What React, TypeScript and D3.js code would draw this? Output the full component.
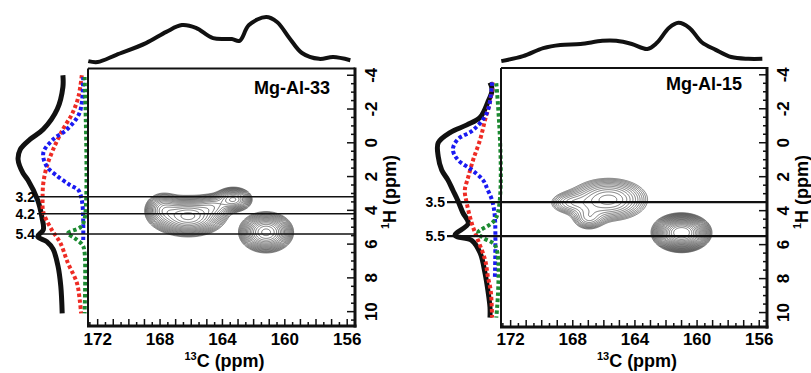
import React, { useMemo } from 'react'
import * as d3 from 'd3'

const W = 811
const H = 373
const FONT = '"Liberation Sans", Arial, Helvetica, sans-serif'

// top (13C) projections: ppm / intensity
const topC33 = [172.6, 172.0, 170.8, 168.9, 167.6, 166.6, 165.7, 164.6, 163.4, 162.9, 162.3, 161.2, 160.5, 159.7, 158.9, 157.8, 156.9, 155.8]
const topI33 = [2, 0, 16, 42, 67, 82, 76, 53, 51, 47, 82, 100, 89, 53, 20, 7, 11, 4]
const topC15 = [172.6, 171.2, 169.9, 168.8, 167.5, 166.1, 165.2, 164.2, 163.2, 162.6, 161.8, 161.2, 160.5, 159.7, 158.8, 157.8, 156.7, 155.8]
const topI15 = [2, 13, 31, 38, 40, 47, 47, 40, 29, 42, 76, 87, 76, 44, 27, 11, 7, 7]

// left (1H) projections: ppm / intensity, sum (black) and fitted components
const sumH33 = [-4.0, -3.3, -2.0, -0.8, -0.2, 0.4, 1.0, 1.8, 2.2, 3.4, 4.4, 5.15, 5.55, 5.85, 6.3, 7.3, 8.5, 10.1]
const sumI33 = [33, 33, 41, 61, 80, 94, 97, 90, 83, 69, 63, 61, 69, 56, 47, 40, 36, 34]
const redH33 = [-4.0, -2.7, -1.7, -0.8, 0.4, 1.4, 2.4, 3.3, 4.1, 5.15, 5.9, 7.1, 8.3, 9.3, 10.1]
const redI33 = [6, 11, 20, 33, 47, 56, 61, 62, 61, 49, 37, 26, 13, 9, 7]
const blueH33 = [-3.9, -1.8, -0.8, -0.2, 0.6, 1.4, 2.0, 2.5, 2.8, 3.4, 4.6, 5.9]
const blueI33 = [4, 9, 27, 47, 61, 56, 40, 23, 11, 6, 4, 4]
const greenH33 = [-3.9, 4.5, 5.0, 5.35, 5.65, 6.05, 6.5, 10.1]
const greenI33 = [2, 2, 8, 26, 16, 5, 2, 2]

const sumH15 = [-3.55, -3.1, -2.4, -1.5, -1.05, -0.6, 0.0, 0.8, 1.6, 2.2, 2.8, 3.4, 4.1, 4.75, 5.45, 5.75, 6.5, 7.7, 8.7, 9.7, 10.3]
const sumI15 = [10, 7, 13, 24, 43, 67, 84, 84, 79, 70, 63, 56, 49, 41, 60, 36, 24, 17, 13, 10, 10]
const redH15 = [-3.55, -2.4, -1.35, -0.2, 1.0, 2.0, 2.8, 3.4, 4.75, 5.75, 6.9, 7.9, 8.7, 10.3]
const redI15 = [6, 10, 17, 24, 34, 41, 46, 44, 36, 27, 17, 13, 9, 7]
const blueH15 = [-3.55, -1.8, -0.75, -0.2, 0.4, 1.0, 1.6, 2.2, 2.8, 3.4, 4.4, 7.9]
const blueI15 = [7, 14, 34, 56, 63, 56, 36, 20, 13, 7, 3, 3]
const greenH15 = [-3.5, 4.4, 5.3, 5.6, 6.1, 10.3]
const greenI15 = [1, 1, 27, 20, 2, 1]

// 1H slices marked on the spectra
const refs33 = [3.2, 4.2, 5.4]
const refs15 = [3.5, 5.5]

// cross peaks: [13C ppm, 1H ppm, width 13C, width 1H, height]
const peaks33 = [
  [166.2, 4.35, 1.0, 0.5, 1.0],
  [163.3, 3.35, 0.55, 0.33, 0.55],
  [164.6, 3.75, 0.6, 0.35, 0.3],
  [167.8, 3.9, 0.55, 0.45, 0.35],
  [161.2, 5.3, 0.72, 0.5, 1.0],
]
const peaks15 = [
  [165.7, 3.35, 1.4, 0.7, 0.25],
  [168.3, 3.55, 0.8, 0.4, 0.1],
  [167.0, 4.5, 0.6, 0.4, 0.12],
  [161.0, 5.3, 0.8, 0.48, 1.0],
]

const xTickLabels = [172, 168, 164, 160, 156]
const yTickLabels = [-4, -2, 0, 2, 4, 6, 8, 10]

const RED = '#ee2b24'
const BLUE = '#1a1af2'
const GREEN = '#1c8a31'

const Panel = ({ f, name, nameY, topC, topI, comps, refs, refW, labelEnd, peaks, ratio, nLevels, cStroke }) => {
  const x = d3.scaleLinear().domain([172.62, 155.5]).range([f.x0, f.x1])
  const y = d3.scaleLinear().domain([-4.4, 10.85]).range([f.y0, f.y1])
  const ti = d3.scaleLinear().domain([0, 100]).range([62, 17])
  const li = d3.scaleLinear().domain([0, 100]).range([f.base, f.base - 70])

  const topPath = d3.line<number>()
    .x((c) => x(c))
    .y((c, i) => ti(topI[i]))
    .curve(d3.curveCatmullRom.alpha(0.5))(topC)

  const sidePath = (hs: number[], is: number[]) =>
    d3.line<number>()
      .x((h, i) => li(is[i]))
      .y((h) => y(h))
      .curve(d3.curveCatmullRom.alpha(0.5))(hs)

  const contours = useMemo(() => {
    const n = Math.ceil(f.x1 - f.x0)
    const m = Math.ceil(f.y1 - f.y0)
    const values = new Float64Array(n * m)
    for (let j = 0; j < m; j++) {
      const h = y.invert(f.y0 + j + 0.5)
      for (let i = 0; i < n; i++) {
        const c = x.invert(f.x0 + i + 0.5)
        let v = 0
        for (const [pc, ph, sc, sh, a] of peaks) {
          v += a * Math.exp(-((c - pc) ** 2) / (2 * sc * sc) - ((h - ph) ** 2) / (2 * sh * sh))
        }
        values[j * n + i] = v
      }
    }
    const thresholds = d3.range(nLevels).map((k) => 0.05 * Math.pow(ratio, k))
    const gen = d3.contours().size([n, m]).thresholds(thresholds)
    const path = d3.geoPath()
    return gen(Array.from(values)).map((c) => path(c))
  }, [])

  const xTicks = d3.range(155.5, 172.6, 0.5)
  const yTicks = d3.range(-4, 10.6, 0.5)

  return (
    <g>
      {/* top projection */}
      <path d={topPath} fill="none" stroke="#111" strokeWidth={4} strokeLinejoin="round" />

      {/* left projection and components */}
      <path d={sidePath(comps.sumH, comps.sumI)} fill="none" stroke="#111" strokeWidth={5} strokeLinejoin="round" />
      <path d={sidePath(comps.redH, comps.redI)} fill="none" stroke={RED} strokeWidth={4} strokeDasharray="3.5 2.5" />
      <path d={sidePath(comps.blueH, comps.blueI)} fill="none" stroke={BLUE} strokeWidth={4} strokeDasharray="3.5 2.5" />
      <path d={sidePath(comps.greenH, comps.greenI)} fill="none" stroke={GREEN} strokeWidth={4} strokeDasharray="3.5 2.5" />

      {/* contours */}
      <g transform={`translate(${f.x0},${f.y0})`}>
        {contours.map((d, i) => (
          <path key={i} d={d} fill="none" stroke={cStroke} strokeWidth={0.65} />
        ))}
      </g>

      {/* slice lines */}
      {refs.map((r) => (
        <g key={r}>
          <line x1={labelEnd + 2} x2={f.x1} y1={y(r)} y2={y(r)} stroke="#111" strokeWidth={refW} />
          <text x={labelEnd} y={y(r) + 5} textAnchor="end" fontSize={14} fontWeight="bold" fontFamily={FONT}>
            {r.toFixed(1)}
          </text>
        </g>
      ))}

      {/* frame */}
      <line x1={f.x0} x2={f.x1} y1={f.y0} y2={f.y0} stroke="#111" strokeWidth={2} />
      <line x1={f.x0} x2={f.x0} y1={f.y0} y2={f.y1} stroke="#111" strokeWidth={2} />
      <line x1={f.x0 - 1} x2={f.x1 + 1.5} y1={f.y1} y2={f.y1} stroke="#111" strokeWidth={3} />
      <line x1={f.x1} x2={f.x1} y1={f.y0 - 1} y2={f.y1 + 1.5} stroke="#111" strokeWidth={3} />

      {/* x axis ticks */}
      {xTicks.map((t) => (
        <line key={t} x1={x(t)} x2={x(t)} y1={f.y1} y2={f.y1 - (t % 1 === 0 ? 7 : 4)} stroke="#111" strokeWidth={1.5} />
      ))}
      {xTickLabels.map((t) => (
        <text key={t} x={x(t)} y={345} textAnchor="middle" fontSize={17} fontWeight="bold" fontFamily={FONT}>
          {t}
        </text>
      ))}
      <text x={(f.x0 + f.x1) / 2 + 3} y={367} textAnchor="middle" fontSize={18} fontWeight="bold" fontFamily={FONT}>
        <tspan fontSize={11} dy={-7}>13</tspan>
        <tspan dy={7}>C (ppm)</tspan>
      </text>

      {/* y axis ticks */}
      {yTicks.map((t) => (
        <line key={t} x1={f.x1} x2={f.x1 - (t % 2 === 0 ? 8 : 4)} y1={y(t)} y2={y(t)} stroke="#111" strokeWidth={1.5} />
      ))}
      {yTickLabels.map((t) => (
        <text key={t} transform={`translate(${f.x1 + 22},${y(t)}) rotate(-90)`} textAnchor="middle" fontSize={17} fontWeight="bold" fontFamily={FONT}>
          {t}
        </text>
      ))}
      <text transform={`translate(${f.x1 + 41},192) rotate(-90)`} textAnchor="middle" fontSize={18} fontWeight="bold" fontFamily={FONT}>
        <tspan fontSize={11} dy={-7}>1</tspan>
        <tspan dy={7}>H (ppm)</tspan>
      </text>

      <text x={f.x1 - 25} y={nameY} textAnchor="end" fontSize={18} fontWeight="bold" fontFamily={FONT}>
        {name}
      </text>
    </g>
  )
}

const App = () => {
  return (
    <div style={{ position: 'absolute', left: 0, top: 0, width: W, height: H, background: '#fff' }}>
      <svg width={W} height={H} style={{ display: 'block' }}>
        <Panel
          f={{ x0: 88, x1: 355, y0: 68.5, y1: 326, base: 86 }}
          name="Mg-Al-33"
          nameY={94}
          topC={topC33}
          topI={topI33}
          comps={{ sumH: sumH33, sumI: sumI33, redH: redH33, redI: redI33, blueH: blueH33, blueI: blueI33, greenH: greenH33, greenI: greenI33 }}
          refs={refs33}
          refW={1.5}
          labelEnd={35}
          peaks={peaks33}
          ratio={1.2}
          nLevels={17}
          cStroke="#333"
        />
        <Panel
          f={{ x0: 501, x1: 767, y0: 68, y1: 327, base: 497 }}
          name="Mg-Al-15"
          nameY={90}
          topC={topC15}
          topI={topI15}
          comps={{ sumH: sumH15, sumI: sumI15, redH: redH15, redI: redI15, blueH: blueH15, blueI: blueI15, greenH: greenH15, greenI: greenI15 }}
          refs={refs15}
          refW={2.3}
          labelEnd={445}
          peaks={peaks15}
          ratio={1.15}
          nLevels={21}
          cStroke="#333"
        />
      </svg>
    </div>
  )
}

export default App
